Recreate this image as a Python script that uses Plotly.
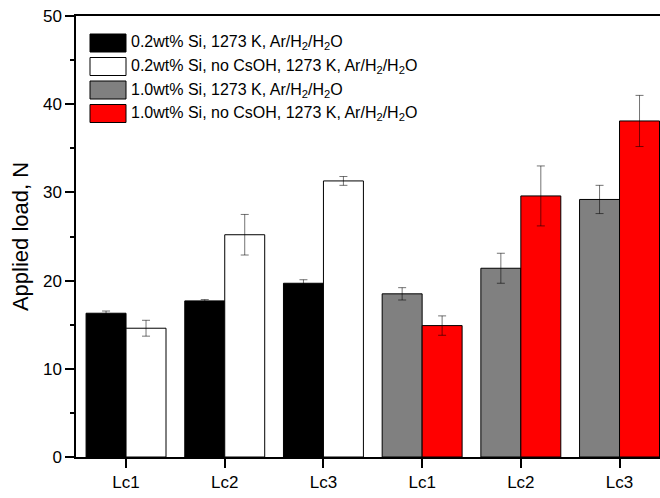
import plotly.graph_objects as go

# ---- data ----
tick_labels = ["Lc1", "Lc2", "Lc3", "Lc1", "Lc2", "Lc3"]
pos_low = [0, 1, 2]
pos_high = [3, 4, 5]

s1_name = "0.2wt% Si, 1273 K, Ar/H<sub>2</sub>/H<sub>2</sub>O"
s1_vals = [16.3, 17.7, 19.7]
s1_err = [0.25, 0.15, 0.4]

s2_name = "0.2wt% Si, no CsOH, 1273 K, Ar/H<sub>2</sub>/H<sub>2</sub>O"
s2_vals = [14.6, 25.2, 31.3]
s2_err = [0.9, 2.3, 0.5]

s3_name = "1.0wt% Si, 1273 K, Ar/H<sub>2</sub>/H<sub>2</sub>O"
s3_vals = [18.5, 21.4, 29.2]
s3_err = [0.7, 1.7, 1.6]

s4_name = "1.0wt% Si, no CsOH, 1273 K, Ar/H<sub>2</sub>/H<sub>2</sub>O"
s4_vals = [14.9, 29.6, 38.1]
s4_err = [1.1, 3.4, 2.9]

colors = ["#000000", "#ffffff", "#808080", "#ff0000"]
names = [s1_name, s2_name, s3_name, s4_name]

BW = 0.405
err_color = "rgba(0,0,0,0.55)"

fig = go.Figure()
series = [
    (pos_low, s1_vals, s1_err, -BW),
    (pos_low, s2_vals, s2_err, 0.0),
    (pos_high, s3_vals, s3_err, -BW),
    (pos_high, s4_vals, s4_err, 0.0),
]
for i, (xs, ys, es, off) in enumerate(series):
    fig.add_trace(go.Bar(
        x=xs, y=ys, width=BW, offset=off, name=names[i],
        marker=dict(color=colors[i], line=dict(color="black", width=1)),
        error_y=dict(type="data", array=es, visible=True,
                     color=err_color, thickness=1, width=4),
        showlegend=False,
    ))

# ---- custom legend ----
L, T, B = 76, 16, 457
W = 660 - L
H = B - T
def px(x):
    return (x - L) / W
def py(y):
    return (B - y) / H

row_y = [43, 66.5, 90, 113.5]
shapes = []
annotations = []
for i, yc in enumerate(row_y):
    shapes.append(dict(type="rect", xref="paper", yref="paper",
                       x0=px(90), x1=px(126), y0=py(yc + 9), y1=py(yc - 9),
                       fillcolor=colors[i], line=dict(color="black", width=1)))
    annotations.append(dict(xref="paper", yref="paper", x=px(129), y=py(yc),
                            text=names[i], showarrow=False, xanchor="left",
                            yanchor="middle",
                            font=dict(size=16, color="black",
                                      family="Liberation Sans, Arial")))

fig.update_layout(
    width=660, height=498,
    margin=dict(l=L, r=0, t=T, b=498 - B),
    paper_bgcolor="white", plot_bgcolor="white",
    barmode="overlay",
    shapes=shapes, annotations=annotations,
    font=dict(family="Liberation Sans, Arial", size=17, color="black"),
    xaxis=dict(range=[-0.507, 5.41], tickmode="array",
               tickvals=[0, 1, 2, 3, 4, 5], ticktext=tick_labels,
               ticks="outside", ticklen=9, tickwidth=1.5, tickcolor="black",
               showline=True, linecolor="black", linewidth=1.5, mirror=True,
               showgrid=False, zeroline=False,
               tickfont=dict(size=17)),
    yaxis=dict(range=[0, 50], tickmode="array",
               tickvals=[0, 10, 20, 30, 40, 50],
               ticks="outside", ticklen=9, tickwidth=1.5, tickcolor="black",
               showline=True, linecolor="black", linewidth=1.5,
               showgrid=False, zeroline=False,
               minor=dict(tickvals=[5, 15, 25, 35, 45], ticks="outside",
                          ticklen=4, tickwidth=1.5, tickcolor="black"),
               title=dict(text="Applied load, N", font=dict(size=22),
                          standoff=8),
               tickfont=dict(size=17)),
)

fig.write_html("out.html")
